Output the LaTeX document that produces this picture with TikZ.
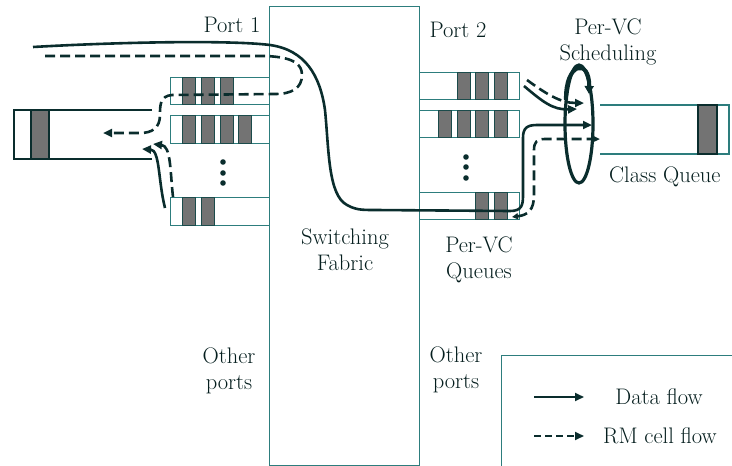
\documentclass[tikz,border=0pt]{standalone}
\usetikzlibrary{arrows.meta}
\definecolor{rimc}{RGB}{45,125,125}
\definecolor{flowc}{RGB}{10,45,45}
\definecolor{cellc}{RGB}{115,115,115}
\definecolor{txtc}{RGB}{5,30,30}
\begin{document}
\begin{tikzpicture}[x=1pt,y=-1pt,
  rim/.style={draw=rimc,line width=1pt},
  cellbox/.style={fill=cellc,draw=rimc!60!black,line width=0.8pt},
  flow/.style={draw=flowc,line width=2.6pt,-{Triangle[length=9pt,width=8pt]}},
  rmflow/.style={flow,dash pattern=on 10pt off 5pt},
  lbl/.style={font=\fontsize{22.5}{26}\selectfont,text=txtc,align=center,inner sep=0pt},
  dotc/.style={fill=flowc}]
\useasboundingbox (0,0) rectangle (732,466);

% switching fabric
\draw[rim] (269,6) rectangle (419,465);

% port 1 per-VC queues
\draw[rim] (170,77) rectangle (269,104);
\draw[rim] (170,115) rectangle (269,143);
\draw[rim] (170,197) rectangle (269,225);
\foreach \a in {182,201,220} \draw[cellbox] (\a,77) rectangle ++(13,27);
\foreach \a in {182,201,220,238} \draw[cellbox] (\a,115) rectangle ++(13,28);
\foreach \a in {182,201} \draw[cellbox] (\a,197) rectangle ++(13,28);
\foreach \b in {162,173,183} \fill[dotc] (223,\b) circle (2.8pt);

% port 2 per-VC queues
\draw[rim] (419,72) rectangle (519,99);
\draw[rim] (419,110) rectangle (519,137);
\draw[rim] (419,192) rectangle (519,219);
\foreach \a in {457,475,494} \draw[cellbox] (\a,72) rectangle ++(13,27);
\foreach \a in {438,457,475,494} \draw[cellbox] (\a,110) rectangle ++(13,27);
\foreach \a in {475,494} \draw[cellbox] (\a,192) rectangle ++(13,27);
\foreach \b in {157,167,178} \fill[dotc] (466,\b) circle (2.8pt);

% left class queue
\draw[draw=flowc,line width=1.8pt] (152,110) -- (14,110) -- (14,159) -- (152,159);
\draw[fill=cellc,draw=flowc,line width=1.8pt] (31,110) rectangle (49,159);

% right class queue
\draw[rim,line width=1.3pt] (600,105) -- (729,105) -- (729,154) -- (600,154);
\draw[fill=cellc,draw=flowc,line width=1.4pt] (698,105) rectangle (717,154);

% scheduler
\draw[draw=flowc,line width=3.2pt] (579,124) ellipse [x radius=14pt, y radius=59pt];
\coordinate (rotS) at (566,100);
\coordinate (rotE) at (589,94);
\draw[draw=flowc,line width=4pt,-{Triangle[length=8pt,width=9pt]}] (rotS) .. controls (565,62) and (590,58) .. (rotE);

% labels
\node[lbl] (port1) at (232,25) {Port 1};
\node[lbl] (port2) at (458,30) {Port 2};
\node[lbl] (sched) at (608,42) {Per-VC\\Scheduling};
\node[lbl,anchor=west] (cq) at (609,177) {Class Queue};
\node[lbl] (fabric) at (345,250) {Switching\\Fabric};
\node[lbl] (pvq) at (479,260) {Per-VC\\Queues};
\node[lbl] (otherL) at (229,371) {Other\\ports};
\node[lbl] (otherR) at (456,370) {Other\\ports};

% legend
\draw[rim] (501,355) rectangle (745,480);
\coordinate (lgA1) at (534,397);
\coordinate (lgA2) at (584,397);
\coordinate (lgB1) at (534,436);
\coordinate (lgB2) at (584,436);
\draw[flow,line width=1.8pt] (lgA1) -- (lgA2);
\draw[rmflow,line width=1.8pt,dash pattern=on 7pt off 4pt] (lgB1) -- (lgB2);
\node[lbl] (ldata) at (659,397) {Data flow};
\node[lbl,anchor=west] (lrm) at (603,436) {RM cell flow};

% main data flow
\coordinate (dfS) at (33,47);
\coordinate (dfE) at (592,125);
\draw[flow] (dfS) .. controls (120,42) and (230,40) .. (270,45)
  .. controls (305,50) and (320,75) .. (325,110)
  .. controls (329,150) and (328,195) .. (347,205)
  .. controls (356,210) and (362,210) .. (375,210) -- (510,211)
  .. controls (522,211) and (523,205) .. (523,195) -- (523,138)
  .. controls (523,128) and (527,125) .. (537,125) -- (dfE);

% main RM flow
\coordinate (rmS) at (45,56);
\coordinate (rmE) at (103,133);
\draw[rmflow] (rmS) -- (265,56) .. controls (295,57) and (302,65) .. (302,75)
  .. controls (302,88) and (292,94) .. (275,94) -- (172,95)
  .. controls (160,96) and (160,105) .. (160,115)
  .. controls (160,128) and (152,133) .. (140,133) -- (rmE);

% left incoming arrows
\coordinate (lsS) at (165,208);
\coordinate (lsE) at (142,149);
\draw[flow] (lsS) .. controls (158,180) and (160,150) .. (lsE);
\coordinate (ldS) at (173,197);
\coordinate (ldE) at (153,144);
\draw[rmflow] (ldS) .. controls (170,170) and (171,146) .. (ldE);

% top right arrows into scheduler
\coordinate (tdS) at (527,80);
\coordinate (tdE) at (584,103);
\draw[rmflow] (tdS) .. controls (545,93) and (560,103) .. (tdE);
\coordinate (tsS) at (524,86);
\coordinate (tsE) at (577,109);
\draw[flow] (tsS) .. controls (543,102) and (553,110) .. (tsE);

% right RM flow
\coordinate (rrS) at (512,217);
\coordinate (rrE) at (600,139);
\draw[rmflow,{Triangle[length=6pt,width=6pt]}-{Triangle[length=9pt,width=8pt]}] (rrS) .. controls (528,215) and (534,210) .. (534,195) -- (534,150)
  .. controls (534,142) and (537,139) .. (545,139) -- (rrE);
\end{tikzpicture}
\end{document}
